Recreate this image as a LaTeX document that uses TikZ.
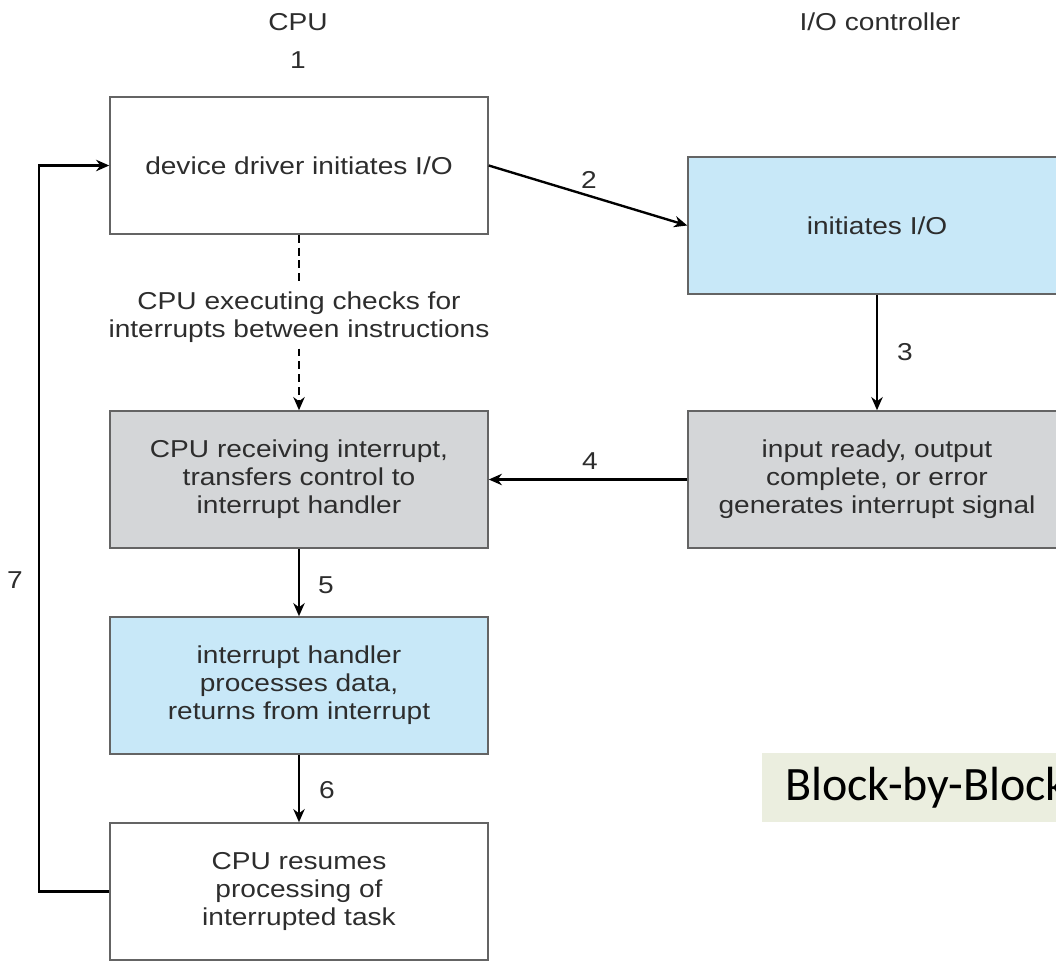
\documentclass[tikz,border=0pt]{standalone}
\usepackage{fontspec}
\setmainfont{Liberation Sans}[FakeStretch=1.15]
\newfontfamily\slidefont{Carlito}
\usetikzlibrary{arrows.meta, positioning}
\definecolor{ioblue}{RGB}{200,232,248}
\definecolor{intgray}{RGB}{212,214,216}
\definecolor{txtgray}{RGB}{45,45,45}
\definecolor{edgegray}{RGB}{100,100,100}
\definecolor{notegreen}{RGB}{235,238,223}

\begin{document}
\begin{tikzpicture}[x=0.02cm, y=-0.02cm, >={Stealth[length=7.5pt,width=6.5pt]},
  blk/.style={rectangle, draw=edgegray, line width=0.9pt, minimum width=7.56cm,
    minimum height=2.74cm, align=center, text=txtgray,
    font=\fontsize{13.9}{15.9}\selectfont},
  lbl/.style={text=txtgray, font=\fontsize{13.9}{15.9}\selectfont},
  flow/.style={->, line width=1.35pt}]
  \useasboundingbox (0,0) rectangle (1056,961);
  \clip (0,0) rectangle (1056,961);

  % column heads
  \node[lbl] (cpuhead) at (298,22) {CPU};
  \node[lbl] (iohead) at (880,22) {I/O controller};
  \node[lbl] (n1) at (298,60) {1};

  % CPU column
  \node[blk] (drv) at (299,165.5) {device driver initiates I/O};
  \node[lbl, align=center] (chk) at (299,317)
    {CPU executing checks for\\interrupts between instructions};
  \node[blk, fill=intgray] (recv) at (299,479.5)
    {CPU receiving interrupt,\\transfers control to\\interrupt handler};
  \node[blk, fill=ioblue] (hndl) at (299,685.5)
    {interrupt handler\\processes data,\\returns from interrupt};
  \node[blk] (resume) at (299,891.5)
    {CPU resumes\\processing of\\interrupted task};

  % I/O controller column
  \node[blk, fill=ioblue] (init) at (877,225.5) {initiates I/O};
  \node[blk, fill=intgray] (ready) at (877,479.5)
    {input ready, output\\complete, or error\\generates interrupt signal};

  % connectors
  \draw[line width=1.1pt, dash pattern=on 4.5pt off 2.8pt] (drv) -- (chk);
  \draw[->, line width=1.1pt, dash pattern=on 4.5pt off 2.8pt] (chk) -- (recv);
  \draw[flow] (drv.east) -- (init.west);
  \draw[flow] (init) -- (ready);
  \draw[flow] (ready) -- (recv);
  \draw[flow] (recv) -- (hndl);
  \draw[flow] (hndl) -- (resume);
  \draw[flow] (resume.west) -- ++(-70,0) |- (drv.west);

  % step numbers
  \node[lbl] (n2) at (589,180) {2};
  \node[lbl] (n3) at (905,352) {3};
  \node[lbl] (n4) at (590,461) {4};
  \node[lbl] (n5) at (326,585) {5};
  \node[lbl] (n6) at (327,790) {6};
  \node[lbl] (n7) at (15,580) {7};

  % slide note
  \node[fill=notegreen, anchor=west, minimum height=1.38cm, inner xsep=0.46cm,
    font=\slidefont\fontsize{27.3}{32}\selectfont] (note) at (762,787.5)
    {Block-by-Block};
\end{tikzpicture}
\end{document}
